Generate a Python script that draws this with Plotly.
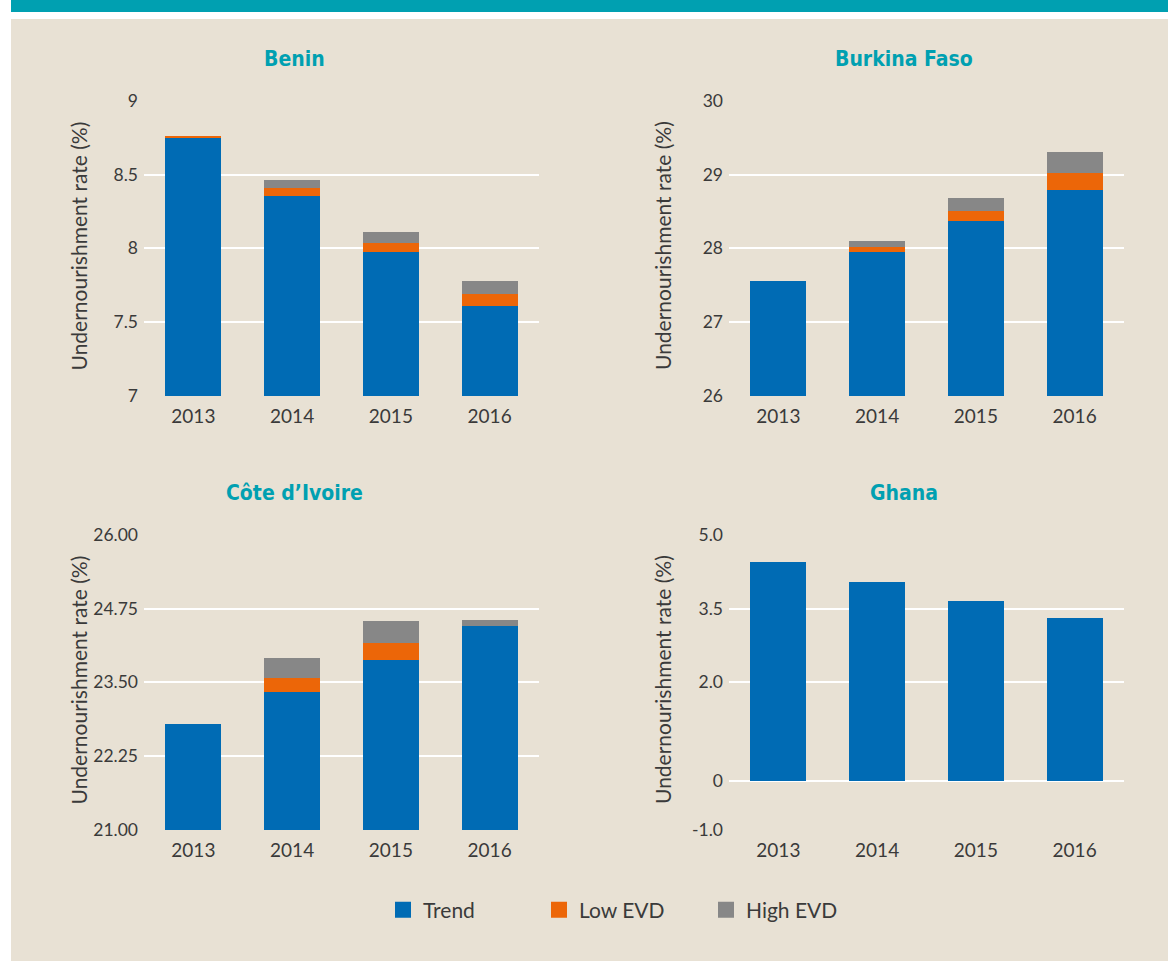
import plotly.graph_objects as go

years = ["2013", "2014", "2015", "2016"]

benin_trend = [8.75, 8.355, 7.976, 7.61]
benin_low = [0.01, 0.054, 0.058, 0.081]
benin_high = [0.0, 0.054, 0.077, 0.088]

burkina_trend = [27.56, 27.95, 28.37, 28.79]
burkina_low = [0.0, 0.07, 0.13, 0.23]
burkina_high = [0.0, 0.08, 0.18, 0.28]

cote_trend = [22.8, 23.34, 23.88, 24.45]
cote_low = [0.0, 0.23, 0.28, 0.0]
cote_high = [0.0, 0.34, 0.38, 0.1]

ghana_trend = [4.445, 4.04, 3.65, 3.31]
ghana_low = [0.0, 0.0, 0.0, 0.0]
ghana_high = [0.0, 0.0, 0.0, 0.0]

countries = ["Benin", "Burkina Faso", "Côte d’Ivoire", "Ghana"]
series_names = ["Trend", "Low EVD", "High EVD"]

benin_ticks = [7, 7.5, 8, 8.5, 9]
benin_ticktext = ["7", "7.5", "8", "8.5", "9"]
burkina_ticks = [26, 27, 28, 29, 30]
burkina_ticktext = ["26", "27", "28", "29", "30"]
cote_ticks = [21, 22.25, 23.5, 24.75, 26]
cote_ticktext = ["21.00", "22.25", "23.50", "24.75", "26.00"]
ghana_ticks = [-1, 0, 2, 3.5, 5]
ghana_ticktext = ["-1.0", "0", "2.0", "3.5", "5.0"]

W, H = 1168, 961
BLUE = "#006bb4"
ORANGE = "#ec6608"
GREY = "#878787"
BEIGE = "#e8e1d4"
TEAL = "#00a0b1"
TXT = "#3a3a3a"
FONT = "Lato, Roboto, sans-serif"
TFONT = "DejaVu Sans Condensed, Lato, sans-serif"

colors = [BLUE, ORANGE, GREY]
data = [
    (benin_trend, benin_low, benin_high),
    (burkina_trend, burkina_low, burkina_high),
    (cote_trend, cote_low, cote_high),
    (ghana_trend, ghana_low, ghana_high),
]

def px_x(v):
    return v / W

def px_y(v):
    return 1 - v / H

xdom = [(px_x(144), px_x(539)), (px_x(729), px_x(1124))]
ydom = [(px_y(396), px_y(100.7)), (px_y(830), px_y(534.7))]

fig = go.Figure()

for i, (tr, lo, hi) in enumerate(data):
    ax = "" if i == 0 else str(i + 1)
    for vals, name, col in zip((tr, lo, hi), series_names, colors):
        fig.add_trace(go.Bar(
            x=years, y=vals, name=name, marker=dict(color=col, line=dict(width=0)),
            xaxis="x" + ax, yaxis="y" + ax, showlegend=False,
        ))

# legend entries, one legend box per entry so each can be placed
legend_ids = ["legend", "legend2", "legend3"]
for name, col, lid in zip(series_names, colors, legend_ids):
    fig.add_trace(go.Scatter(
        x=[None], y=[None], mode="markers", name=name,
        marker=dict(symbol="square", size=20, color=col),
        xaxis="x", yaxis="y", showlegend=True, legend=lid,
    ))

ranges = [(7, 9), (26, 30), (21, 26), (-1, 5)]
ticks = [(benin_ticks, benin_ticktext), (burkina_ticks, burkina_ticktext),
         (cote_ticks, cote_ticktext), (ghana_ticks, ghana_ticktext)]

layout = dict(
    width=W, height=H,
    margin=dict(l=0, r=0, t=0, b=0),
    paper_bgcolor="white",
    plot_bgcolor="rgba(0,0,0,0)",
    barmode="stack",
    bargap=0.433,
    font=dict(family=FONT, color=TXT, size=19),
    showlegend=True,
)

legend_left = [383, 539, 706]
for lid, lx in zip(legend_ids, legend_left):
    layout[lid] = dict(
        orientation="h", x=px_x(lx), xanchor="left", y=px_y(910), yanchor="middle",
        font=dict(size=21, color=TXT, family=FONT), bgcolor="rgba(0,0,0,0)",
        itemclick=False, itemdoubleclick=False,
    )

for i in range(4):
    r, c = divmod(i, 2)
    ax = "" if i == 0 else str(i + 1)
    layout["xaxis" + ax] = dict(
        domain=list(xdom[c]), anchor="y" + ax, automargin=False,
        showgrid=False, zeroline=False, showline=False,
        ticks="outside", ticklen=3, tickcolor="rgba(0,0,0,0)",
        tickfont=dict(size=19, color=TXT, family=FONT), fixedrange=True,
    )
    layout["yaxis" + ax] = dict(
        domain=list(ydom[r]), anchor="x" + ax, automargin=False,
        range=list(ranges[i]), tickmode="array",
        tickvals=ticks[i][0], ticktext=ticks[i][1],
        showgrid=True, gridcolor="white", gridwidth=2,
        zeroline=(i == 3), zerolinecolor="white", zerolinewidth=2,
        showline=False, ticks="", ticklabelstandoff=5,
        tickfont=dict(size=17.5, color=TXT, family=FONT), fixedrange=True,
    )

fig.update_layout(**layout)

shapes = [
    dict(type="rect", xref="paper", yref="paper", x0=px_x(11), x1=1, y0=px_y(12), y1=1,
         fillcolor=TEAL, line=dict(width=0), layer="below"),
    dict(type="rect", xref="paper", yref="paper", x0=px_x(11), x1=1, y0=0, y1=px_y(19),
         fillcolor=BEIGE, line=dict(width=0), layer="below"),
]
fig.update_layout(shapes=shapes)

title_pos = [(294, 59), (903.5, 59), (294, 493), (903.5, 493)]
for name, (tx, ty) in zip(countries, title_pos):
    fig.add_annotation(
        text="<b>" + name + "</b>", x=px_x(tx), y=px_y(ty), xref="paper", yref="paper",
        xanchor="center", yanchor="middle", showarrow=False,
        font=dict(size=21, color=TEAL, family=TFONT),
    )

ytitle_pos = [(77.5, 246), (662, 246), (77.5, 680), (662, 680)]
for (tx, ty) in ytitle_pos:
    fig.add_annotation(
        text="Undernourishment rate (%)", x=px_x(tx), y=px_y(ty), xref="paper", yref="paper",
        xanchor="center", yanchor="middle", showarrow=False, textangle=-90,
        font=dict(size=21, color=TXT, family=FONT),
    )

fig.write_html(
    "out.html",
    config={"displayModeBar": False},
    post_script="document.body.style.margin='0';document.body.style.overflow='hidden';",
)
